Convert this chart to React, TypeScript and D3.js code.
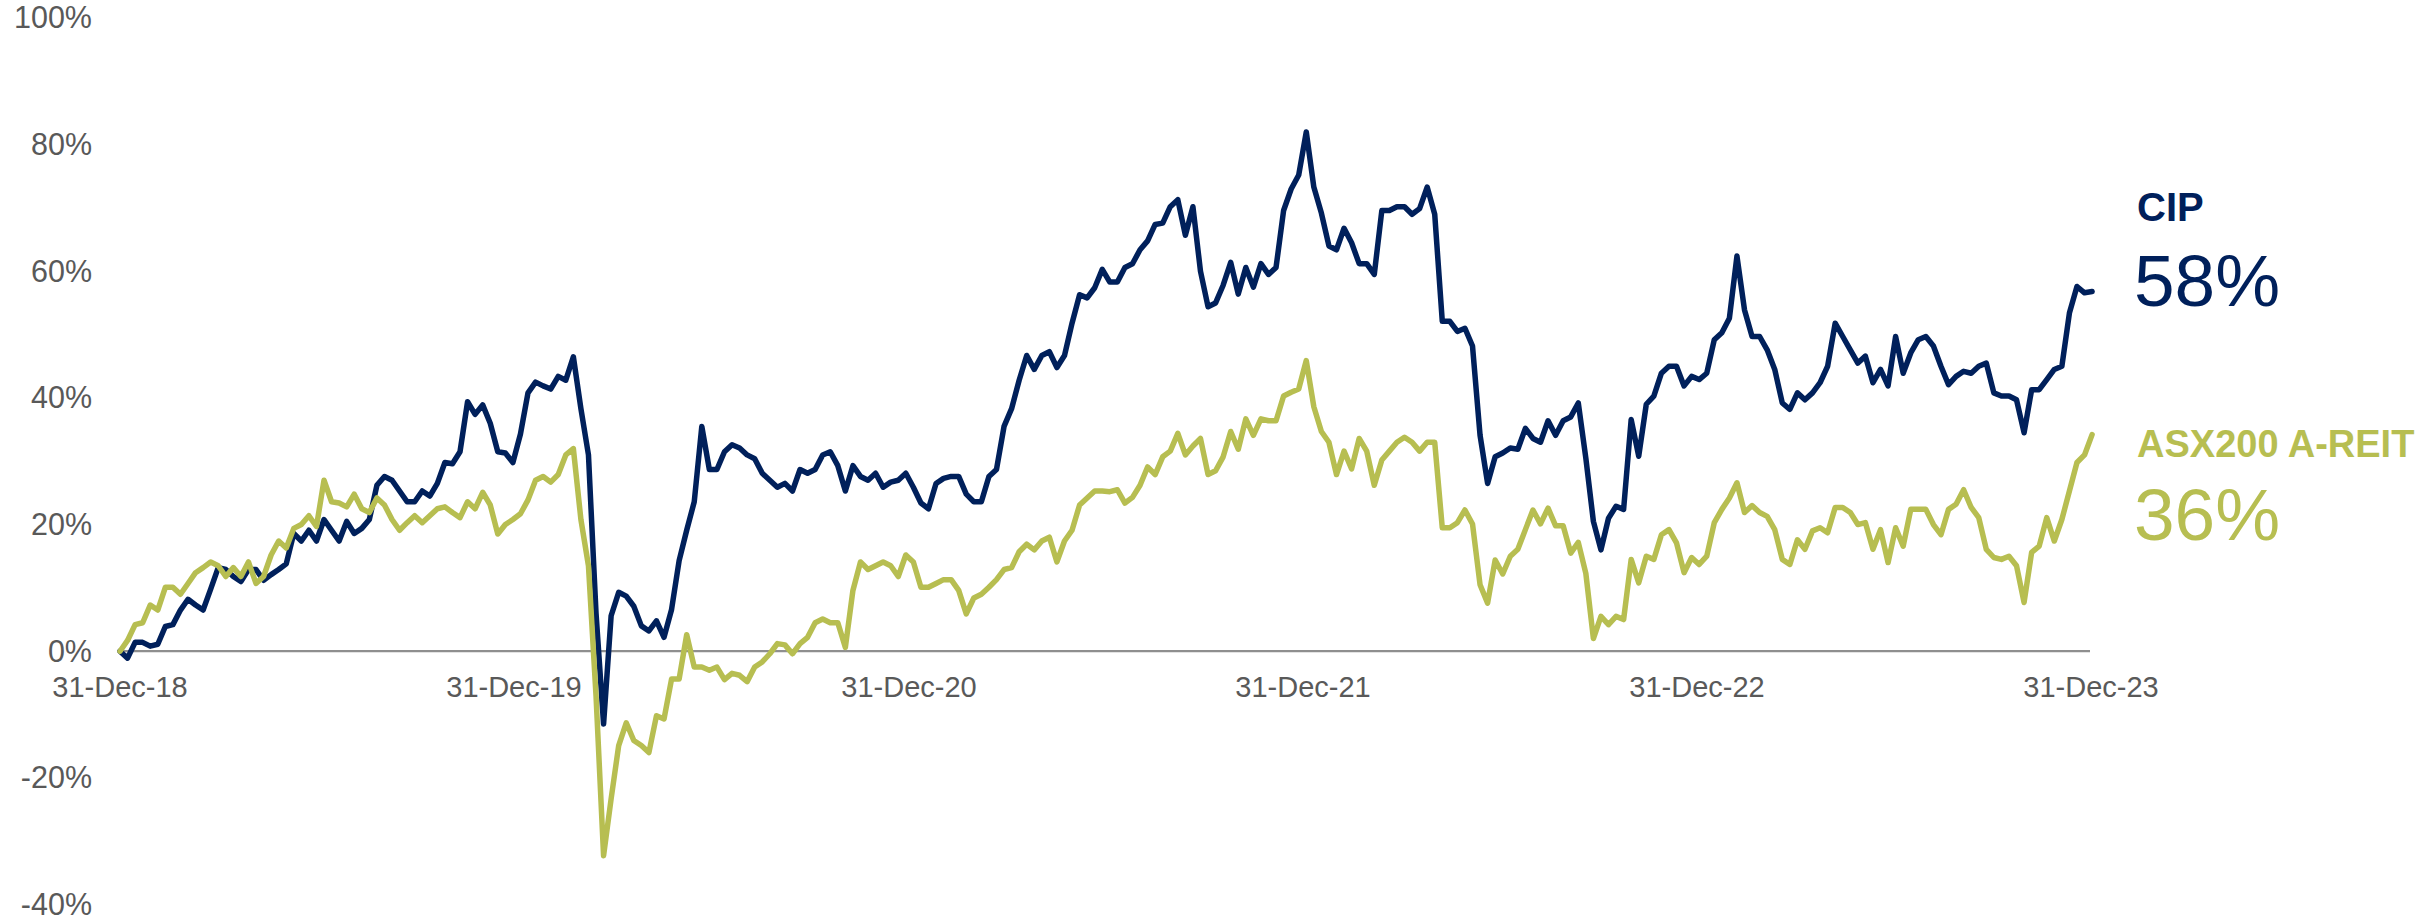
import React from "react";
import * as d3 from "d3";

// Weekly observations starting 31-Dec-2018 (cumulative return, %)
const startDate = "2018-12-31";
const stepDays = 7;

const cipValues: number[] = [
  0, -1.1, 1.4, 1.4, 0.8, 1.1, 3.9, 4.2, 6.5, 8.2,
  7.3, 6.5, 9.8, 13.2, 12.9, 11.8, 11.0, 12.9, 12.9, 11.2,
  12.1, 12.9, 13.8, 18.6, 17.4, 19.1, 17.4, 20.8, 19.1, 17.4,
  20.5, 18.6, 19.4, 20.8, 26.2, 27.6, 27.0, 25.3, 23.6, 23.6,
  25.3, 24.5, 26.5, 29.8, 29.6, 31.5, 39.4, 37.4, 38.9, 36.0,
  31.5, 31.3, 29.8, 34.3, 40.8, 42.5, 41.9, 41.4, 43.4, 42.8,
  46.5, 38.3, 31.0, 6.0, -11.5, 5.6, 9.3, 8.7, 7.1, 4.0,
  3.2, 4.8, 2.2, 6.6, 14.3, 19.1, 23.6, 35.5, 28.7, 28.7,
  31.5, 32.6, 32.1, 31.0, 30.4, 28.1, 27.0, 25.9, 26.5, 25.3,
  28.7, 28.1, 28.7, 31.0, 31.5, 29.3, 25.3, 29.3, 27.6, 27.0,
  28.1, 25.9, 26.7, 27.0, 28.1, 25.9, 23.4, 22.5, 26.5, 27.3,
  27.6, 27.6, 24.8, 23.6, 23.6, 27.6, 28.7, 35.5, 38.3, 42.8,
  46.7, 44.5, 46.7, 47.3, 44.8, 46.7, 51.8, 56.3, 55.8, 57.4,
  60.3, 58.3, 58.3, 60.6, 61.2, 63.4, 64.8, 67.4, 67.6, 70.2,
  71.3, 65.7, 70.2, 60.0, 54.4, 55.0, 57.8, 61.4, 56.4, 60.6,
  57.5, 61.2, 59.5, 60.6, 69.6, 73.0, 75.2, 82.0, 73.3, 69.2,
  64.0, 63.4, 66.8, 64.5, 61.2, 61.2, 59.5, 69.6, 69.6, 70.2,
  70.2, 69.0, 69.9, 73.3, 69.0, 52.1, 52.1, 50.5, 51.0, 48.2,
  34.1, 26.5, 30.7, 31.3, 32.1, 31.9, 35.2, 33.6, 33.0, 36.4,
  34.1, 36.4, 37.0, 39.2, 30.5, 20.5, 16.0, 21.0, 22.9, 22.4,
  36.6, 30.8, 39.0, 40.3, 43.9, 45.0, 45.0, 41.9, 43.4, 42.9,
  43.9, 49.2, 50.3, 52.6, 62.4, 53.9, 49.7, 49.7, 47.6, 44.5,
  39.2, 38.2, 40.8, 39.7, 40.8, 42.4, 45.0, 51.8, 49.7, 47.6,
  45.5, 46.6, 42.4, 44.5, 41.9, 49.7, 43.9, 47.1, 49.2, 49.7,
  48.2, 45.0, 42.1, 43.4, 44.2, 43.9, 45.0, 45.5, 40.8, 40.3,
  40.3, 39.7, 34.5, 41.3, 41.3, 42.9, 44.5, 45.0, 53.4, 57.6,
  56.6, 56.8,
];

const reitValues: number[] = [
  0, 1.7, 4.2, 4.5, 7.3, 6.5, 10.1, 10.1, 9.0, 10.7,
  12.4, 13.2, 14.1, 13.5, 11.8, 13.2, 11.8, 14.1, 10.7, 11.8,
  15.2, 17.4, 16.3, 19.4, 20.0, 21.4, 19.7, 27.0, 23.6, 23.4,
  22.8, 24.8, 22.5, 21.9, 24.2, 23.1, 20.8, 19.1, 20.3, 21.4,
  20.3, 21.4, 22.5, 22.8, 21.9, 21.1, 23.6, 22.5, 25.1, 23.1,
  18.5, 20.0, 20.8, 21.7, 23.9, 27.0, 27.6, 26.7, 27.9, 31.0,
  32.0, 20.8, 13.5, -7.0, -32.3, -23.3, -14.9, -11.3, -14.1, -14.9,
  -16.0, -10.2, -10.7, -4.4, -4.4, 2.6, -2.5, -2.5, -3.0, -2.5,
  -4.5, -3.5, -3.8, -4.8, -2.5, -1.7, -0.4, 1.2, 1.0, -0.4,
  1.2, 2.2, 4.5, 5.1, 4.5, 4.5, 0.6, 9.6, 14.1, 12.9,
  13.5, 14.1, 13.5, 11.8, 15.2, 14.1, 10.1, 10.1, 10.7, 11.3,
  11.3, 9.6, 5.9, 8.4, 9.0, 10.1, 11.3, 12.9, 13.2, 15.7,
  16.9, 16.0, 17.4, 18.0, 14.1, 17.4, 19.1, 23.1, 24.2, 25.3,
  25.3, 25.2, 25.5, 23.4, 24.3, 26.2, 29.1, 27.9, 30.7, 31.6,
  34.4, 31.0, 32.4, 33.6, 27.9, 28.5, 30.7, 34.7, 31.9, 36.7,
  34.1, 36.7, 36.4, 36.4, 40.3, 40.9, 41.4, 45.9, 38.6, 34.7,
  33.0, 27.9, 31.6, 28.8, 33.6, 31.6, 26.2, 30.2, 31.6, 33.0,
  33.8, 33.0, 31.6, 33.0, 33.0, 19.5, 19.5, 20.3, 22.3, 20.1,
  10.5, 7.6, 14.4, 12.2, 15.0, 16.1, 19.2, 22.3, 20.1, 22.6,
  19.8, 19.8, 15.5, 17.2, 12.3, 2.0, 5.5, 4.2, 5.5, 5.0,
  14.5, 10.8, 15.0, 14.5, 18.4, 19.2, 17.1, 12.4, 14.8, 13.7,
  15.0, 20.3, 22.4, 24.2, 26.6, 21.9, 23.0, 21.9, 21.3, 19.2,
  14.5, 13.7, 17.6, 16.1, 19.0, 19.5, 18.7, 22.7, 22.7, 21.9,
  20.0, 20.3, 16.1, 19.2, 14.0, 19.5, 16.6, 22.4, 22.4, 22.4,
  20.0, 18.4, 22.4, 23.2, 25.5, 22.7, 21.1, 16.1, 14.8, 14.5,
  15.0, 13.5, 7.7, 15.6, 16.6, 21.1, 17.4, 20.8, 25.3, 29.8,
  31.0, 34.2,
];

const yTicks: number[] = [-40, -20, 0, 20, 40, 60, 80, 100];
const xTickDates: string[] = ["2018-12-31", "2019-12-31", "2020-12-31", "2021-12-31", "2022-12-31", "2023-12-31"];
const xTickLabels: string[] = ["31-Dec-18", "31-Dec-19", "31-Dec-20", "31-Dec-21", "31-Dec-22", "31-Dec-23"];

const seriesNames: string[] = ["CIP", "ASX200 A-REIT"];
const seriesFinal: string[] = ["58%", "36%"];

const W = 2435;
const H = 921;
const NAVY = "#00205B";
const GREEN = "#B7BE51";
const GREY = "#595959";
const FONT = "'Liberation Sans', Arial, Helvetica, sans-serif";

export default function App() {
  const parse = d3.timeParse("%Y-%m-%d");
  const start = parse(startDate) as Date;
  const dates = cipValues.map((_, i) => d3.timeDay.offset(start, i * stepDays));

  const x = d3
    .scaleTime()
    .domain([parse(xTickDates[0]) as Date, parse(xTickDates[xTickDates.length - 1]) as Date])
    .range([120, 2091]);
  const y = d3.scaleLinear().domain([-40, 100]).range([904.5, 18]);

  const line = d3
    .line<number>()
    .x((_, i) => x(dates[i]))
    .y((d) => y(d))
    .curve(d3.curveLinear);

  return (
    <svg
      width={W}
      height={H}
      style={{ position: "absolute", left: 0, top: 0, background: "#fff" }}
      fontFamily={FONT}
    >
      {yTicks.map((t) => (
        <text key={t} x={92} y={y(t)} dy="0.34em" textAnchor="end" fontSize={30.5} fill={GREY}>
          {`${t}%`}
        </text>
      ))}
      <line x1={x(parse(xTickDates[0]) as Date)} x2={2090} y1={y(0)} y2={y(0)} stroke="#8f8f8f" strokeWidth={2.2} />
      {xTickDates.map((d, i) => (
        <text key={d} x={x(parse(d) as Date)} y={697} textAnchor="middle" fontSize={29} fill={GREY}>
          {xTickLabels[i]}
        </text>
      ))}
      <path d={line(cipValues) || ""} fill="none" stroke={NAVY} strokeWidth={5.5} strokeLinejoin="round" strokeLinecap="round" />
      <path d={line(reitValues) || ""} fill="none" stroke={GREEN} strokeWidth={5.5} strokeLinejoin="round" strokeLinecap="round" />

      <text x={2137} y={221} fontSize={40} fontWeight="bold" fill={NAVY}>{seriesNames[0]}</text>
      <text x={2134} y={306} fontSize={73} fill={NAVY}>{seriesFinal[0]}</text>
      <text x={2137} y={457} fontSize={38} fontWeight="bold" fill={GREEN}>{seriesNames[1]}</text>
      <text x={2134} y={540} fontSize={73} fill={GREEN}>{seriesFinal[1]}</text>
    </svg>
  );
}
